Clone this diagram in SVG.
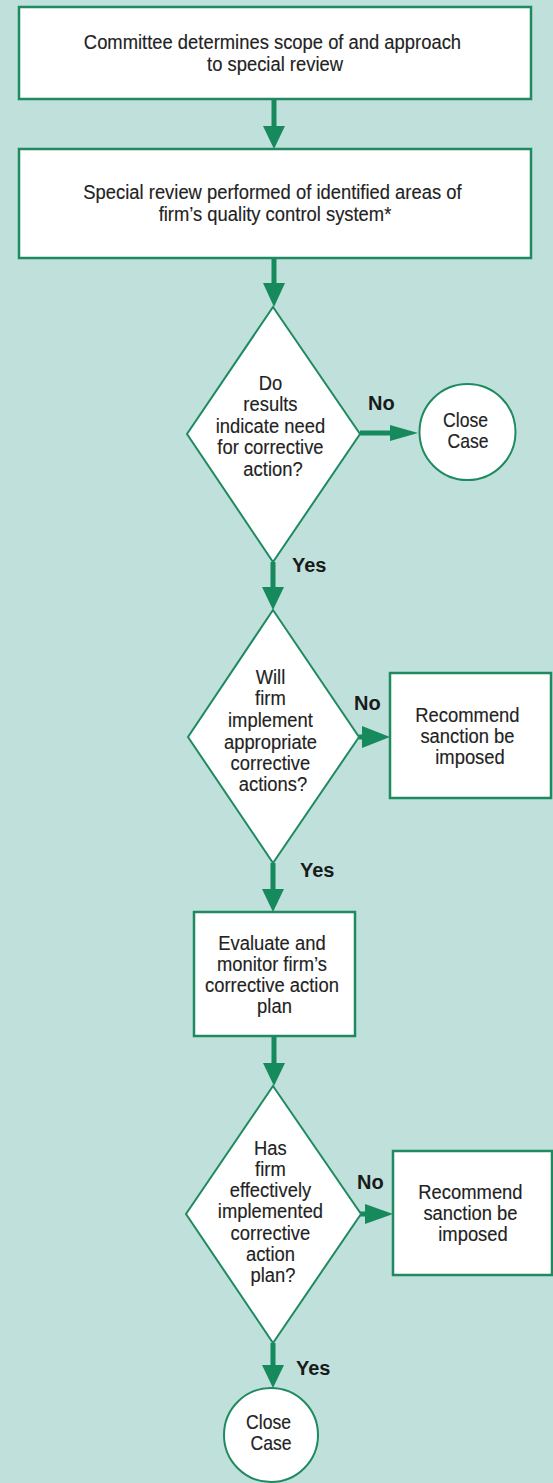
<svg xmlns="http://www.w3.org/2000/svg" width="553" height="1483" viewBox="0 0 553 1483">
  <style>
    .bg { fill: #bfe0db; }
    .box { fill: #ffffff; stroke: #1f8a60; stroke-width: 2.5; }
    .shape { fill: #ffffff; stroke: #1f8a60; stroke-width: 2; }
    .t { font-family: "Liberation Sans", Arial, sans-serif; font-size: 21px; fill: #222222; stroke: #222222; stroke-width: 0.15; text-anchor: middle; }
    .c { font-size: 20px; }
    .lbl { font-family: "Liberation Sans", Arial, sans-serif; font-size: 20px; font-weight: bold; fill: #1a1a1a; }
    .wire { stroke: #168a5c; stroke-width: 5; fill: none; }
    .head { fill: #168a5c; }
  </style>

  <rect class="bg" x="0" y="0" width="553" height="1483"/>

  <!-- connectors -->
  <g id="connectors">
    <!-- scope box to special review -->
    <line class="wire" x1="274" y1="99" x2="274" y2="128"/>
    <polygon class="head" points="263,126 285,126 274,149"/>
    <!-- special review to first decision -->
    <line class="wire" x1="274" y1="258" x2="274" y2="285"/>
    <polygon class="head" points="263,283 285,283 274,307"/>
    <!-- first decision: No -->
    <line class="wire" x1="360" y1="433" x2="392" y2="433"/>
    <polygon class="head" points="390,425 390,441 418,433"/>
    <!-- first decision: Yes -->
    <line class="wire" x1="273" y1="562" x2="273" y2="589"/>
    <polygon class="head" points="262,587 284,587 273,610"/>
    <!-- second decision: No -->
    <line class="wire" x1="359" y1="737" x2="364" y2="737"/>
    <polygon class="head" points="362,726 362,748 390,737"/>
    <!-- second decision: Yes -->
    <line class="wire" x1="273" y1="863" x2="273" y2="891"/>
    <polygon class="head" points="262,889 284,889 273,912"/>
    <!-- monitoring box to third decision -->
    <line class="wire" x1="274" y1="1036" x2="274" y2="1065"/>
    <polygon class="head" points="263,1063 285,1063 274,1086"/>
    <!-- third decision: No -->
    <line class="wire" x1="360" y1="1214" x2="367" y2="1214"/>
    <polygon class="head" points="365,1204 365,1224 393,1214"/>
    <!-- third decision: Yes -->
    <line class="wire" x1="273" y1="1343" x2="273" y2="1367"/>
    <polygon class="head" points="262,1365 284,1365 273,1388"/>
  </g>

  <!-- branch labels -->
  <g id="branch-labels">
    <text class="lbl" x="368" y="410">No</text>
    <text class="lbl" x="292" y="572">Yes</text>
    <text class="lbl" x="354" y="710">No</text>
    <text class="lbl" x="300" y="877">Yes</text>
    <text class="lbl" x="357" y="1189">No</text>
    <text class="lbl" x="296" y="1375">Yes</text>
  </g>

  <g id="scope">
    <rect class="box" x="19" y="7" width="512" height="92"/>
    <text class="t" transform="translate(275 0) scale(0.876 1)">
      <tspan x="0" y="49">Committee determines scope of and approach</tspan>
      <tspan x="0" y="71">to special review</tspan>
    </text>
  </g>

  <g id="special-review">
    <rect class="box" x="19" y="149" width="512" height="109"/>
    <text class="t" transform="translate(275 0) scale(0.876 1)">
      <tspan x="0" y="199">Special review performed of identified areas of</tspan>
      <tspan x="0" y="221">firm’s quality control system*</tspan>
    </text>
  </g>

  <g id="need-action">
    <polygon class="shape" points="273,307 360,434 273,562 187,434"/>
    <text class="t" transform="translate(273 0) scale(0.876 1)">
      <tspan x="0" y="390">Do</tspan>
      <tspan x="0" y="411.5">results</tspan>
      <tspan x="0" y="433">indicate need</tspan>
      <tspan x="0" y="454.5">for corrective</tspan>
      <tspan x="0" y="476">action?</tspan>
    </text>
  </g>

  <g id="close-case-1">
    <circle class="shape" cx="467.5" cy="432" r="48"/>
    <text class="t c" transform="translate(468 0) scale(0.88 1)">
      <tspan x="0" y="427">Close</tspan>
      <tspan x="0" y="448">Case</tspan>
    </text>
  </g>

  <g id="will-implement">
    <polygon class="shape" points="273,610 359,737 273,863 188,737"/>
    <text class="t" transform="translate(273 0) scale(0.876 1)">
      <tspan x="0" y="684">Will</tspan>
      <tspan x="0" y="705.5">firm</tspan>
      <tspan x="0" y="727">implement</tspan>
      <tspan x="0" y="748.5">appropriate</tspan>
      <tspan x="0" y="770">corrective</tspan>
      <tspan x="0" y="791.5">actions?</tspan>
    </text>
  </g>

  <g id="sanction-1">
    <rect class="box" x="390" y="673" width="161" height="125"/>
    <text class="t" transform="translate(470 0) scale(0.876 1)">
      <tspan x="0" y="722">Recommend</tspan>
      <tspan x="0" y="743">sanction be</tspan>
      <tspan x="0" y="764">imposed</tspan>
    </text>
  </g>

  <g id="monitor-plan">
    <rect class="box" x="194" y="912" width="161" height="124"/>
    <text class="t" transform="translate(274.5 0) scale(0.876 1)">
      <tspan x="0" y="950">Evaluate and</tspan>
      <tspan x="0" y="971">monitor firm’s</tspan>
      <tspan x="0" y="992">corrective action</tspan>
      <tspan x="0" y="1013">plan</tspan>
    </text>
  </g>

  <g id="implemented">
    <polygon class="shape" points="273,1086 361,1214 273,1343 186,1214"/>
    <text class="t" transform="translate(273 0) scale(0.876 1)">
      <tspan x="0" y="1155">Has</tspan>
      <tspan x="0" y="1176">firm</tspan>
      <tspan x="0" y="1197">effectively</tspan>
      <tspan x="0" y="1218">implemented</tspan>
      <tspan x="0" y="1240">corrective</tspan>
      <tspan x="0" y="1261">action</tspan>
      <tspan x="0" y="1282">plan?</tspan>
    </text>
  </g>

  <g id="sanction-2">
    <rect class="box" x="393" y="1151" width="159" height="124"/>
    <text class="t" transform="translate(473 0) scale(0.876 1)">
      <tspan x="0" y="1199">Recommend</tspan>
      <tspan x="0" y="1220">sanction be</tspan>
      <tspan x="0" y="1241">imposed</tspan>
    </text>
  </g>

  <g id="close-case-2">
    <circle class="shape" cx="271" cy="1435" r="47"/>
    <text class="t c" transform="translate(271 0) scale(0.88 1)">
      <tspan x="0" y="1429">Close</tspan>
      <tspan x="0" y="1450">Case</tspan>
    </text>
  </g>
</svg>
